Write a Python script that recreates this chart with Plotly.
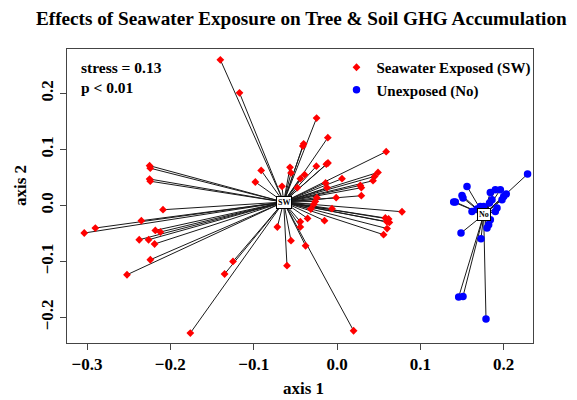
import plotly.graph_objects as go

# ---- data ----
sw_x = [-0.140, -0.117, -0.0245, -0.011, -0.040, -0.041, 0.059, -0.091, -0.0564, -0.0552,
        -0.0248, -0.0128, -0.0108, -0.098, -0.066, -0.0389, -0.044, -0.0476, 0.006, 0.0492,
        0.0451, 0.0432, -0.0137, -0.012, 0.028, 0.0292, -0.0242, -0.001, 0.0292, -0.026,
        -0.0278, -0.0314, -0.006, 0.078, 0.058, 0.0619, 0.0598, 0.0628, 0.0601, 0.0559,
        -0.015, -0.0353, -0.044, -0.044, -0.0716, -0.0552, -0.0377, -0.060, -0.1248, -0.1349,
        0.0199, -0.176, -0.2249, -0.2241, -0.2249, -0.2241, -0.2088, -0.2348, -0.290, -0.3033,
        -0.218, -0.212, -0.2373, -0.2261, -0.2189, -0.224, -0.252]
sw_y = [0.260, 0.201, 0.156, 0.121, 0.110, 0.106, 0.096, 0.0625, 0.068, 0.058,
        0.070, 0.0736, 0.0757, 0.0418, 0.034, 0.0548, 0.0477, 0.0316, 0.0477, 0.0589,
        0.0518, 0.0441, 0.040, 0.0316, 0.0357, 0.0316, 0.0138, 0.0138, 0.0173, 0.0071,
        0.0021, -0.0064, -0.0059, -0.0113, -0.0225, -0.0243, -0.0291, -0.0304, -0.0413, -0.0523,
        -0.0273, -0.0232, -0.0291, -0.0384, -0.0386, -0.063, -0.072, -0.1077, -0.100, -0.1225,
        -0.2238, -0.2279, 0.0709, 0.0664, 0.0471, 0.0432, -0.0077, -0.0273, -0.0404, -0.0493,
        -0.0446, -0.0475, -0.0613, -0.0613, -0.0689, -0.097, -0.1238]

no_x = [0.2287, 0.156, 0.150, 0.1512, 0.140, 0.142, 0.184, 0.190, 0.196, 0.2032,
        0.200, 0.198, 0.186, 0.183, 0.176, 0.172, 0.168, 0.162, 0.192, 0.190,
        0.184, 0.182, 0.180, 0.1488, 0.1728, 0.146, 0.1512, 0.1788]
no_y = [0.056, 0.0339, 0.0179, 0.0132, 0.0061, 0.0061, 0.0232, 0.028, 0.028, 0.0204,
        0.0161, 0.0102, 0.0102, 0.0043, -0.0018, -0.0018, -0.0064, -0.0107, -0.0046, -0.0107,
        -0.0255, -0.0345, -0.0404, -0.0493, -0.0595, -0.1636, -0.1625, -0.2029]

centroid_labels = ["SW", "No"]
centroid_x = [-0.064, 0.176]
centroid_y = [0.006, -0.0166]

x_ticks = [-0.3, -0.2, -0.1, 0.0, 0.1, 0.2]
y_ticks = [-0.2, -0.1, 0.0, 0.1, 0.2]

SERIF = "Liberation Serif"

def spider(xs, ys, cx, cy):
    lx, ly = [], []
    for a, b in zip(xs, ys):
        lx += [cx, a, None]
        ly += [cy, b, None]
    return lx, ly

fig = go.Figure()

for xs, ys, cx, cy in [(sw_x, sw_y, centroid_x[0], centroid_y[0]),
                       (no_x, no_y, centroid_x[1], centroid_y[1])]:
    lx, ly = spider(xs, ys, cx, cy)
    fig.add_trace(go.Scatter(x=lx, y=ly, mode="lines", line=dict(color="#1a1a1a", width=1),
                             showlegend=False, hoverinfo="skip"))

fig.add_trace(go.Scatter(x=sw_x, y=sw_y, mode="markers", name="Seawater Exposed (SW)",
                         marker=dict(symbol="diamond", size=6, color="#ff0000", line=dict(width=0))))
fig.add_trace(go.Scatter(x=no_x, y=no_y, mode="markers", name="Unexposed (No)",
                         marker=dict(symbol="circle", size=7.5, color="#0000ff", line=dict(width=0))))

for lab, cx, cy in zip(centroid_labels, centroid_x, centroid_y):
    fig.add_annotation(x=cx, y=cy, xref="x", yref="y", text=lab, showarrow=False,
                       font=dict(family=SERIF, size=8, color="black", weight="bold"),
                       bgcolor="white", bordercolor="black", borderwidth=1, borderpad=1)

L, R, T, B = 67, 533, 49, 343
W, H = 577, 400
def px(x): return (x - L) / (R - L)
def py(y): return (B - y) / (B - T)

ann_font = dict(family=SERIF, color="black", weight="bold")
fig.add_annotation(x=px(301), y=py(18), xref="paper", yref="paper", showarrow=False,
                   text="Effects of Seawater Exposure on Tree & Soil GHG Accumulation",
                   font=dict(size=19.2, **ann_font), xanchor="center", yanchor="middle")
fig.add_annotation(x=px(303), y=py(388), xref="paper", yref="paper", showarrow=False,
                   text="axis 1", font=dict(size=17, **ann_font), xanchor="center", yanchor="middle")
fig.add_annotation(x=px(20), y=py(186), xref="paper", yref="paper", showarrow=False,
                   text="axis 2", textangle=-90, font=dict(size=17, **ann_font),
                   xanchor="center", yanchor="middle")
fig.add_annotation(x=px(79), y=py(68), xref="paper", yref="paper", showarrow=False,
                   text="stress = 0.13", font=dict(size=15.5, **ann_font), xanchor="left", yanchor="middle")
fig.add_annotation(x=px(79), y=py(87), xref="paper", yref="paper", showarrow=False,
                   text="p < 0.01", font=dict(size=15.5, **ann_font), xanchor="left", yanchor="middle")

axis_common = dict(showgrid=False, zeroline=False, showline=True, mirror=True,
                   linecolor="#444444", linewidth=1, ticks="outside", ticklen=6,
                   tickcolor="#444444", tickwidth=1,
                   tickfont=dict(family=SERIF, size=17, color="black", weight="bold"))

fig.update_xaxes(range=[-0.324, 0.2352], tickvals=x_ticks,
                 ticktext=[f"{v:.1f}".replace("-", "\u2212") for v in x_ticks], **axis_common)
fig.update_yaxes(range=[-0.2457, 0.2793], tickvals=y_ticks, tickangle=-90,
                 ticktext=[f"{v:.1f}".replace("-", "\u2212") for v in y_ticks], **axis_common)

fig.update_layout(
    width=W, height=H,
    margin=dict(l=L, r=W - R, t=T, b=H - B, autoexpand=False),
    paper_bgcolor="white", plot_bgcolor="white",
    showlegend=True,
    legend=dict(x=px(336.5), y=py(51), xanchor="left", yanchor="top",
                bgcolor="rgba(0,0,0,0)", tracegroupgap=0,
                font=dict(family=SERIF, size=15, color="black", weight="bold")),
)

fig.write_html("out.html", config={"displayModeBar": False},
               post_script="document.body.style.margin='0';document.body.style.overflow='hidden';")
